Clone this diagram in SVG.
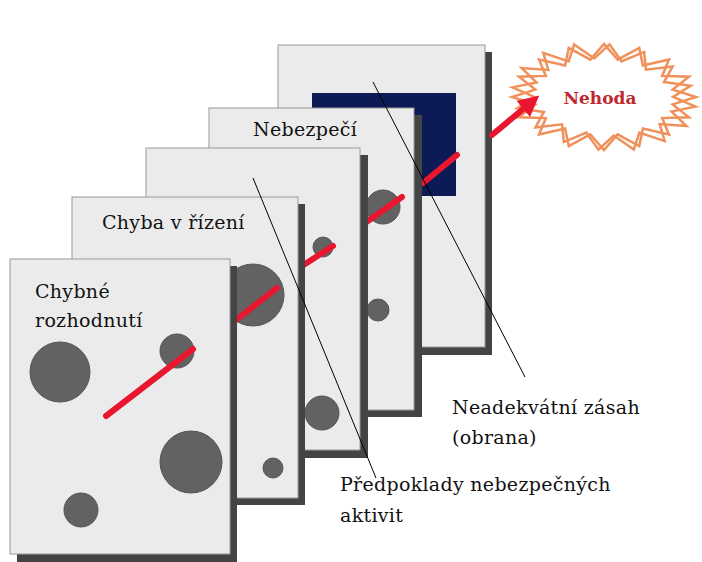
<svg xmlns="http://www.w3.org/2000/svg" width="702" height="562" viewBox="0 0 702 562">
<style>
.sh{fill:#444}
.pn{fill:#ebebeb;stroke:#9a9a9a;stroke-width:1}
.h{fill:#626262;stroke:#555;stroke-width:1}
.r{stroke:#e8162e;stroke-width:6;stroke-linecap:round;fill:none}
.t{font-family:"DejaVu Serif","Liberation Serif",serif;font-size:19px;fill:#111;letter-spacing:0.3px}
.l{stroke:#000;stroke-width:1;fill:none}
.b{fill:none;stroke:#f0905a;stroke-width:2.5}
</style>
<defs>
<marker id="ah" viewBox="0 0 10 10" refX="3" refY="5" markerWidth="3.5" markerHeight="3.5" orient="auto"><path d="M0,0L10,5L0,10z" fill="#e8162e"/></marker>
<polygon id="burst" points="696,97 672.7,104.4 689,117.3 662.2,118.1 669,134.5 642.9,128.6 639.2,146 617.7,134.3 604,150 590.3,134.3 568.8,146 565.1,128.6 539,134.5 545.8,118.1 519,117.3 535.3,104.4 512,97 535.3,89.6 519,76.7 545.8,75.9 539,59.5 565.1,65.4 568.8,48 590.3,59.7 604,44 617.7,59.7 639.2,48 642.9,65.4 669,59.5 662.2,75.9 689,76.7 672.7,89.6"/>
</defs>
<rect width="702" height="562" fill="#fff"/>
<g id="panel5">
<rect class="sh" x="285" y="52" width="207" height="303"/>
<rect class="pn" x="278" y="45" width="207" height="302"/>
<rect x="312" y="93" width="144" height="103" fill="#0c1a55"/>
<line class="r" x1="423" y1="183" x2="457" y2="155"/>
</g>
<g id="panel4">
<rect class="sh" x="216" y="115" width="206" height="302"/>
<rect class="pn" x="209" y="108" width="205" height="302"/>
<circle class="h" cx="383" cy="207" r="17"/>
<circle class="h" cx="378" cy="310" r="11"/>
<line class="r" x1="365" y1="223" x2="402" y2="197"/>
<text class="t" x="253" y="136">Nebezpečí</text>
</g>
<g id="panel3">
<rect class="sh" x="153" y="155" width="215" height="303"/>
<rect class="pn" x="146" y="148" width="214" height="302"/>
<circle class="h" cx="323" cy="247" r="10"/>
<circle class="h" cx="322" cy="413" r="17"/>
<line class="r" x1="302" y1="266" x2="333" y2="246"/>
</g>
<g id="panel2">
<rect class="sh" x="79" y="204" width="226" height="301"/>
<rect class="pn" x="72" y="197" width="226" height="301"/>
<circle class="h" cx="253" cy="295" r="31"/>
<circle class="h" cx="273" cy="468" r="10"/>
<line class="r" x1="236" y1="320" x2="277" y2="288"/>
<text class="t" x="102" y="229">Chyba v řízení</text>
</g>
<g id="panel1">
<rect class="sh" x="17" y="266" width="220" height="296"/>
<rect class="pn" x="10" y="259" width="220" height="295"/>
<circle class="h" cx="60" cy="372" r="30"/>
<circle class="h" cx="177" cy="351" r="17"/>
<circle class="h" cx="191" cy="462" r="31"/>
<circle class="h" cx="81" cy="510" r="17"/>
<line class="r" x1="106" y1="416" x2="193" y2="349"/>
<text class="t" x="35" y="298">Chybné</text>
<text class="t" x="35" y="327">rozhodnutí</text>
</g>
<g id="nehoda">
<use href="#burst" fill="#fff" class="b"/>
<use href="#burst" class="b" transform="rotate(6 604 97)"/>
<text x="600" y="104" text-anchor="middle" style="font-family:'DejaVu Serif',serif;font-size:17px;font-weight:bold;fill:#c0282e">Nehoda</text>
</g>
<g id="connectors">
<line class="r" x1="492" y1="135" x2="528" y2="105" stroke-width="7" marker-end="url(#ah)"/>
<line class="l" x1="373" y1="82" x2="525" y2="377"/>
<line class="l" x1="253" y1="178" x2="376" y2="478"/>
</g>
<g id="labels">
<text class="t" x="452" y="414">Neadekvátní zásah</text>
<text class="t" x="452" y="444">(obrana)</text>
<text class="t" x="340" y="491">Předpoklady nebezpečných</text>
<text class="t" x="340" y="522">aktivit</text>
</g>
</svg>
